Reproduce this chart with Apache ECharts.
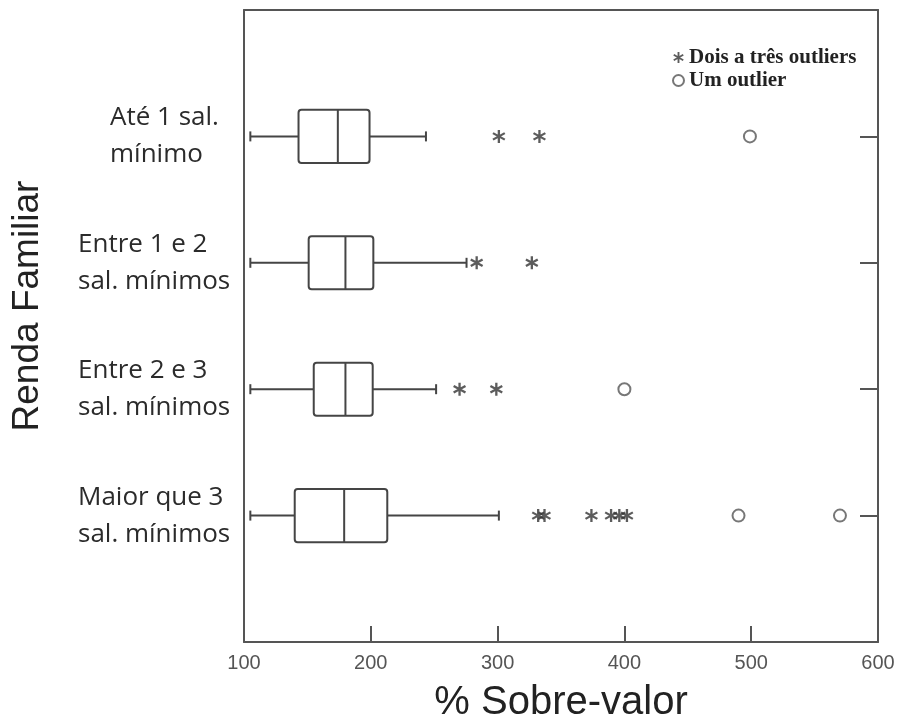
<!DOCTYPE html>
<html>
<head>
<meta charset="utf-8">
<script src="https://cdn.jsdelivr.net/npm/echarts@6/dist/echarts.min.js"></script>
<style>
html,body{margin:0;padding:0;background:#fff;}
#chart{width:903px;height:725px;}
</style>
</head>
<body>
<div id="chart"></div>
<script>
// ---- data ----
var categories = ['Até 1 sal.\nmínimo', 'Entre 1 e 2\nsal. mínimos', 'Entre 2 e 3\nsal. mínimos', 'Maior que 3\nsal. mínimos'];
var lowWhisker  = [105, 105, 105, 105];
var q1Values    = [143, 151, 155, 140];
var medianValues = [174, 180, 180, 179];
var q3Values    = [199, 202, 201.5, 213];
var highWhisker = [243.5, 275.5, 251.5, 301];
var multiOutliers  = [[301, 333], [283.5, 327], [270, 299], [332, 337, 374, 389.5, 396, 402]];
var singleOutliers = [[499], [], [400], [490, 570]];
var xTicks = [100, 200, 300, 400, 500, 600];
var xAxisName = '% Sobre-valor';
var yAxisName = 'Renda Familiar';
var legendNames = ['Dois a três outliers', 'Um outlier'];

// ---- build ----
var axisCats = [' '].concat(categories.slice().reverse(), ['  ']);
function rowOf(i) { return axisCats.indexOf(categories[i]); }

var boxData = categories.map(function (c, i) {
  return [rowOf(i), lowWhisker[i], q1Values[i], medianValues[i], q3Values[i], highWhisker[i]];
});
var multiData = [], singleData = [];
categories.forEach(function (c, i) {
  multiOutliers[i].forEach(function (v) { multiData.push([v, rowOf(i)]); });
  singleOutliers[i].forEach(function (v) { singleData.push([v, rowOf(i)]); });
});

var LINE = '#454545';
var asterisk = 'path://M-1.1,-6.5L1.1,-6.5L1.1,6.5L-1.1,6.5Z' +
  'M5.08,-4.2L6.18,-2.3L-5.08,4.2L-6.18,2.3Z' +
  'M6.18,2.3L5.08,4.2L-6.18,-2.3L-5.08,-4.2Z';

function renderBox(params, api) {
  var row = api.value(0);
  var pLo = api.coord([api.value(1), row]);
  var pQ1 = api.coord([api.value(2), row]);
  var pMed = api.coord([api.value(3), row]);
  var pQ3 = api.coord([api.value(4), row]);
  var pHi = api.coord([api.value(5), row]);
  var bh = api.size([0, 1])[1] * 0.42;
  var y = pLo[1];
  var st = { stroke: LINE, lineWidth: 2, fill: null };
  return {
    type: 'group',
    children: [
      { type: 'line', shape: { x1: pLo[0], y1: y, x2: pQ1[0], y2: y }, style: st },
      { type: 'line', shape: { x1: pQ3[0], y1: y, x2: pHi[0], y2: y }, style: st },
      { type: 'line', shape: { x1: pLo[0], y1: y - 5, x2: pLo[0], y2: y + 5 }, style: st },
      { type: 'line', shape: { x1: pHi[0], y1: y - 5, x2: pHi[0], y2: y + 5 }, style: st },
      { type: 'rect', shape: { x: pQ1[0], y: y - bh / 2, width: pQ3[0] - pQ1[0], height: bh, r: 3 },
        style: { stroke: LINE, lineWidth: 2, fill: '#fff' } },
      { type: 'line', shape: { x1: pMed[0], y1: y - bh / 2, x2: pMed[0], y2: y + bh / 2 }, style: st }
    ]
  };
}

var chart = echarts.init(document.getElementById('chart'), null, { renderer: 'canvas' });
var axisLineStyle = { color: '#555', width: 2 };

chart.setOption({
  animation: false,
  backgroundColor: '#fff',
  grid: { left: 244, right: 25, top: 10, bottom: 83, containLabel: false, outerBoundsMode: 'none' },
  legend: {
    data: [
      { name: legendNames[0], icon: asterisk },
      { name: legendNames[1], icon: 'emptyCircle' }
    ],
    orient: 'vertical',
    left: 667, top: 42,
    itemWidth: 11, itemHeight: 11, itemGap: 2,
    selectedMode: false,
    textStyle: { fontFamily: 'Liberation Serif', fontWeight: 'bold', fontSize: 21, color: '#222' }
  },
  xAxis: [{
    type: 'value', position: 'bottom',
    min: xTicks[0], max: xTicks[xTicks.length - 1], interval: 100,
    splitLine: { show: false },
    axisLine: { show: true, lineStyle: axisLineStyle },
    axisTick: { show: true, inside: true, length: 16, lineStyle: axisLineStyle },
    axisLabel: { color: '#555', fontSize: 20, fontFamily: 'Liberation Sans', margin: 11 },
    name: xAxisName, nameLocation: 'middle', nameGap: 41,
    nameTextStyle: { fontSize: 40, fontFamily: 'Liberation Sans', color: '#222' }
  }, {
    type: 'value', position: 'top',
    min: xTicks[0], max: xTicks[xTicks.length - 1], interval: 100,
    splitLine: { show: false },
    axisLine: { show: true, lineStyle: axisLineStyle },
    axisTick: { show: false }, axisLabel: { show: false }
  }],
  yAxis: [{
    type: 'category', position: 'left', data: axisCats, boundaryGap: false,
    axisLine: { show: true, lineStyle: axisLineStyle },
    axisTick: { show: false },
    splitLine: { show: false },
    axisLabel: {
      margin: 12, align: 'right', interval: 0,
      formatter: function (v) {
        if (!v.trim()) return '';
        var key = v.indexOf('Até') === 0 ? 'a' : 'b';
        return v.split('\n').map(function (s) { return '{' + key + '|' + s + '}'; }).join('\n');
      },
      rich: {
        a: { width: 122, align: 'left', fontFamily: 'Open Sans', fontSize: 26, lineHeight: 37, color: '#2b2b2b' },
        b: { width: 154, align: 'left', fontFamily: 'Open Sans', fontSize: 26, lineHeight: 37, color: '#2b2b2b' }
      }
    },
    name: yAxisName, nameLocation: 'middle', nameGap: 198,
    nameTextStyle: { fontSize: 37, fontFamily: 'Liberation Sans', color: '#222', padding: [0, 0, 0, 40] }
  }, {
    type: 'category', position: 'right', data: axisCats, boundaryGap: false,
    axisLine: { show: true, lineStyle: axisLineStyle },
    axisTick: { show: true, inside: true, length: 18, lineStyle: axisLineStyle },
    axisLabel: { show: false },
    splitLine: { show: false }
  }],
  series: [{
    type: 'custom', name: 'box',
    renderItem: renderBox,
    encode: { x: [1, 2, 3, 4, 5], y: 0 },
    data: boxData, z: 2
  }, {
    type: 'scatter', name: legendNames[0],
    symbol: asterisk, symbolSize: 13,
    itemStyle: { color: '#333' },
    data: multiData, z: 3
  }, {
    type: 'scatter', name: legendNames[1],
    symbol: 'emptyCircle', symbolSize: 12,
    itemStyle: { color: '#555', borderWidth: 2 },
    data: singleData, z: 3
  }]
});
</script>
</body>
</html>
